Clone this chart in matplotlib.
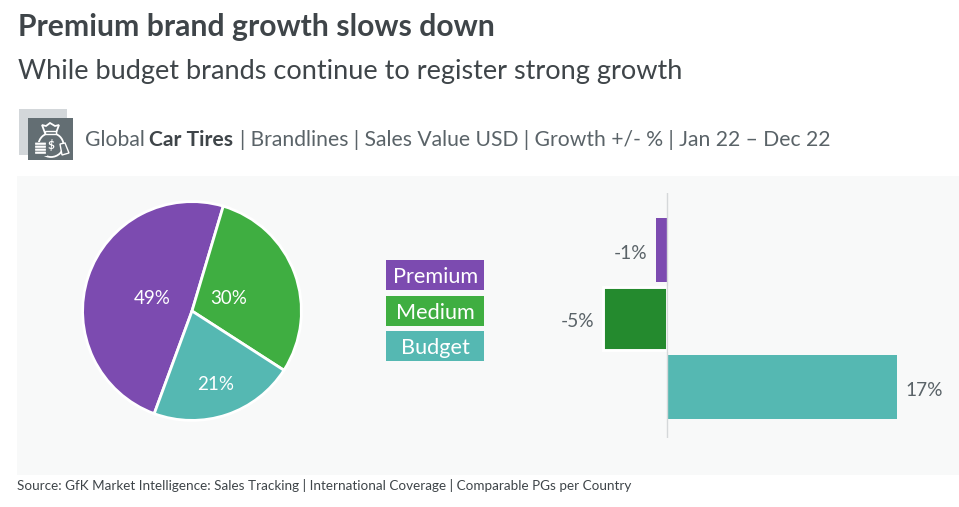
import matplotlib
matplotlib.use("Agg")
import matplotlib.pyplot as plt
from matplotlib.patches import Rectangle, Ellipse, Polygon, FancyBboxPatch

plt.rcParams['font.family'] = ['Lato', 'DejaVu Sans']

W, H = 959, 507
DARK = "#3f4549"
GREY = "#5a6368"

categories = ["Premium", "Medium", "Budget"]
share = [49, 29.5, 21.5]
share_labels = ["49%", "30%", "21%"]
growth = [-0.8, -4.7, 17]
growth_labels = ["-1%", "-5%", "17%"]
pie_colors = ["#7c4bb0", "#3fae41", "#55b8b2"]
bar_colors = ["#7c4bb0", "#248a2e", "#55b8b2"]
bar_edges = ["none", "white", "none"]


def pixelAxes(fig, x0, y0, x1, y1):
    # y is measured from the top of the picture
    return fig.add_axes([x0 / W, 1 - y1 / H, (x1 - x0) / W, (y1 - y0) / H])


fig = plt.figure(figsize=(W / 100, H / 100), dpi=100, facecolor="white")

# background layer in pixel coordinates
bg = fig.add_axes([0, 0, 1, 1])
bg.set_xlim(0, W)
bg.set_ylim(H, 0)
bg.axis("off")
bg.add_patch(Rectangle((17, 176), 942, 298.5, color="#f8f9f9", lw=0))

bg.text(18, 27, "Premium brand growth slows down", fontsize=21.7, fontweight="bold",
        color=DARK, va="center")
bg.text(18, 71, "While budget brands continue to register strong growth", fontsize=19.56,
        color=DARK, va="center")
bg.text(84.5, 140, "Global", fontsize=15.25, color=GREY, va="center")
bg.text(149, 140, "Car Tires", fontsize=15.25, fontweight="bold", color=DARK, va="center")
bg.text(239.5, 140, "| Brandlines | Sales Value USD | Growth +/- % | Jan 22 – Dec 22", fontsize=15.25,
        color=GREY, va="center")
bg.text(17, 486, "Source: GfK Market Intelligence: Sales Tracking | International Coverage | Comparable PGs per Country",
        fontsize=9.73, color=DARK, va="center")

# icon: money bag with coins and a note
bg.add_patch(Rectangle((19, 109), 48, 46, color="#d3d7da", lw=0))
bg.add_patch(Rectangle((28, 118), 45, 42, color="#636e73", lw=0))
bg.add_patch(Ellipse((51, 145), 25, 24, fc="none", ec="white", lw=1.3))
bg.add_patch(Polygon([(45, 133), (56, 133), (59, 125), (55, 126), (50, 123), (46, 126), (42, 125)],
                     fc="#636e73", ec="white", lw=1.3))
bg.add_patch(Rectangle((45, 131), 11, 2.5, fc="#636e73", ec="white", lw=1))
bg.text(51, 145, "$", fontsize=8.5, fontweight="bold", color="white", ha="center", va="center")
bg.add_patch(Polygon([(60, 144), (65, 143), (69, 153), (62, 155)], fc="#636e73", ec="white", lw=1))
bg.add_patch(Rectangle((34, 142), 13, 13.5, color="#636e73", lw=0))
for y in [143, 146, 149, 152]:
    bg.add_patch(FancyBboxPatch((35.5, y), 10, 1.4, boxstyle="round,pad=0.4", color="white", lw=0))

# legend boxes
legend_tops = [260, 296, 331]
for name, color, top in zip(categories, pie_colors, legend_tops):
    bg.add_patch(Rectangle((386, top), 98, 30, color=color, lw=0))
    bg.text(435.5, top + 17, name, fontsize=15.6, color="white", ha="center", va="center")

# pie
pie_ax = pixelAxes(fig, 81.5, 200.5, 302.5, 421.5)
pie_ax.pie(share, colors=pie_colors, startangle=249.8, counterclock=False, radius=1,
           wedgeprops={"edgecolor": "white", "linewidth": 2})
pie_ax.set_xlim(-1.01, 1.01)
pie_ax.set_ylim(-1.01, 1.01)

# slice labels sit where the original placed them, not on a common radius
label_spots = [(152, 299), (228.5, 299), (216, 384)]
for label, (x, y) in zip(share_labels, label_spots):
    fig.text(x / W, 1 - y / H, label, fontsize=13.5, color="white", ha="center", va="center")

# growth bars
bar_ax = pixelAxes(fig, 532, 193, 959, 438)
bar_ax.patch.set_alpha(0)
y_pos = range(len(categories))
bars = bar_ax.barh(y_pos, growth, height=0.93, color=bar_colors, edgecolor=bar_edges, linewidth=2.1)
bar_ax.set_xlim((532 - 667) / 13.53, (959 - 667) / 13.53)
bar_ax.set_ylim(2.745, -0.832)
for bar, v, label in zip(bars, growth, growth_labels):
    offset = 8.5 if v > 0 else -9
    bar_ax.annotate(label, (v, bar.get_y() + bar.get_height() / 2), xytext=(offset * 0.72, -2.2),
                    textcoords="offset points", ha="left" if v > 0 else "right", va="center",
                    fontsize=13.8, color=GREY)
bar_ax.axvline(0, color="#d5d8da", lw=1, zorder=3)
bar_ax.axis("off")

fig.savefig("out.png", dpi=100, facecolor="white")
